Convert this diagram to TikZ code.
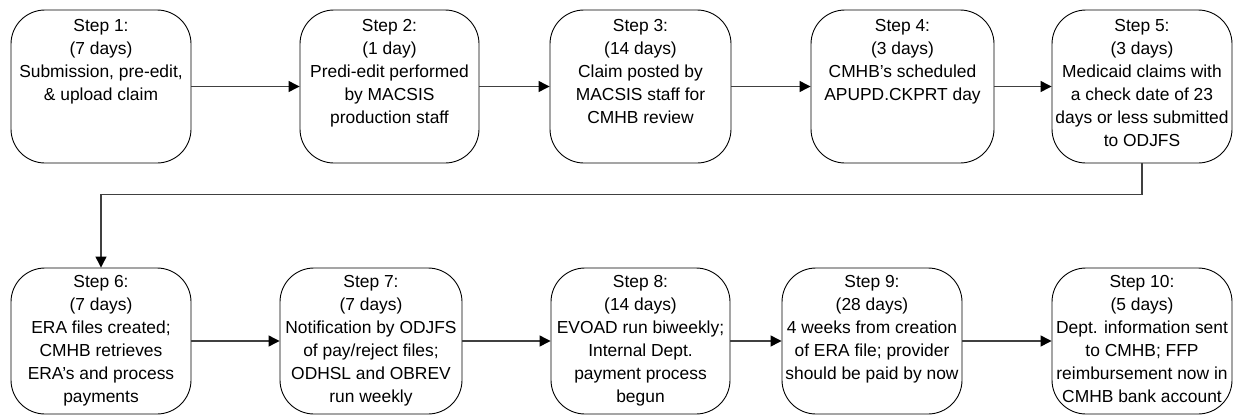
\documentclass[tikz,border=0pt]{standalone}
\usepackage{fontspec}
\setmainfont{Liberation Sans}
\usetikzlibrary{arrows.meta}
\begin{document}
\begin{tikzpicture}[x=1pt,y=-1pt,
  stepbox/.style={draw=black, line width=0.9pt, rounded corners=34pt, inner sep=0pt},
  row1/.style={stepbox, minimum height=153pt},
  row2/.style={stepbox, minimum height=146pt},
  steptext/.style={anchor=north, align=center, inner sep=0pt,
    font=\fontsize{17.4}{23}\selectfont},
  flow/.style={draw=black!75, line width=1.2pt,
    -{Triangle[length=11pt,width=11pt,color=black]}}]
\useasboundingbox (0,0) rectangle (1236,415);

% first row of steps
\node[row1, minimum width=180pt] (b1) at (101,86.5) {};
\node[row1, minimum width=179pt] (b2) at (389.5,86.5) {};
\node[row1, minimum width=181pt] (b3) at (640.5,86.5) {};
\node[row1, minimum width=183pt] (b4) at (902.5,86.5) {};
\node[row1, minimum width=180pt] (b5) at (1142,86.5) {};

% second row of steps
\node[row2, minimum width=180pt] (b6) at (101,341) {};
\node[row2, minimum width=182pt] (b7) at (371,341) {};
\node[row2, minimum width=179pt] (b8) at (640.5,341) {};
\node[row2, minimum width=180pt] (b9) at (872,341) {};
\node[row2, minimum width=180pt] (b10) at (1142,341) {};

% step descriptions, set from the top of each box
\node[steptext] (t1) at ([yshift=-10pt]b1.north) {Step 1:\\(7 days)\\Submission, pre-edit,\\\& upload claim};
\node[steptext] (t2) at ([yshift=-10pt]b2.north) {Step 2:\\(1 day)\\Predi-edit performed\\by MACSIS\\production staff};
\node[steptext] (t3) at ([yshift=-10pt]b3.north) {Step 3:\\(14 days)\\Claim posted by\\MACSIS staff for\\CMHB review};
\node[steptext] (t4) at ([yshift=-10pt]b4.north) {Step 4:\\(3 days)\\CMHB’s scheduled\\APUPD.CKPRT day};
\node[steptext] (t5) at ([yshift=-10pt]b5.north) {Step 5:\\(3 days)\\Medicaid claims with\\a check date of 23\\days or less submitted\\to ODJFS};
\node[steptext] (t6) at ([yshift=-8pt]b6.north) {Step 6:\\(7 days)\\ERA files created;\\CMHB retrieves\\ERA’s and process\\payments};
\node[steptext] (t7) at ([yshift=-8pt]b7.north) {Step 7:\\(7 days)\\Notification by ODJFS\\of pay/reject files;\\ODHSL and OBREV\\run weekly};
\node[steptext] (t8) at ([yshift=-8pt]b8.north) {Step 8:\\(14 days)\\EVOAD run biweekly;\\Internal Dept.\\payment process\\begun};
\node[steptext] (t9) at ([yshift=-8pt]b9.north) {Step 9:\\(28 days)\\4 weeks from creation\\of ERA file; provider\\should be paid by now};
\node[steptext] (t10) at ([yshift=-8pt]b10.north) {Step 10:\\(5 days)\\Dept. information sent\\to CMHB; FFP\\reimbursement now in\\CMHB bank account};

% flow between steps
\draw[flow] (b1.east) -- (b2.west);
\draw[flow] (b2.east) -- (b3.west);
\draw[flow] (b3.east) -- (b4.west);
\draw[flow] (b4.east) -- (b5.west);
\draw[flow] (b5.south) -- ++(0,31) -| (b6.north);
\draw[flow] (b6.east) -- (b7.west);
\draw[flow] (b7.east) -- (b8.west);
\draw[flow] (b8.east) -- (b9.west);
\draw[flow] (b9.east) -- (b10.west);
\end{tikzpicture}
\end{document}
